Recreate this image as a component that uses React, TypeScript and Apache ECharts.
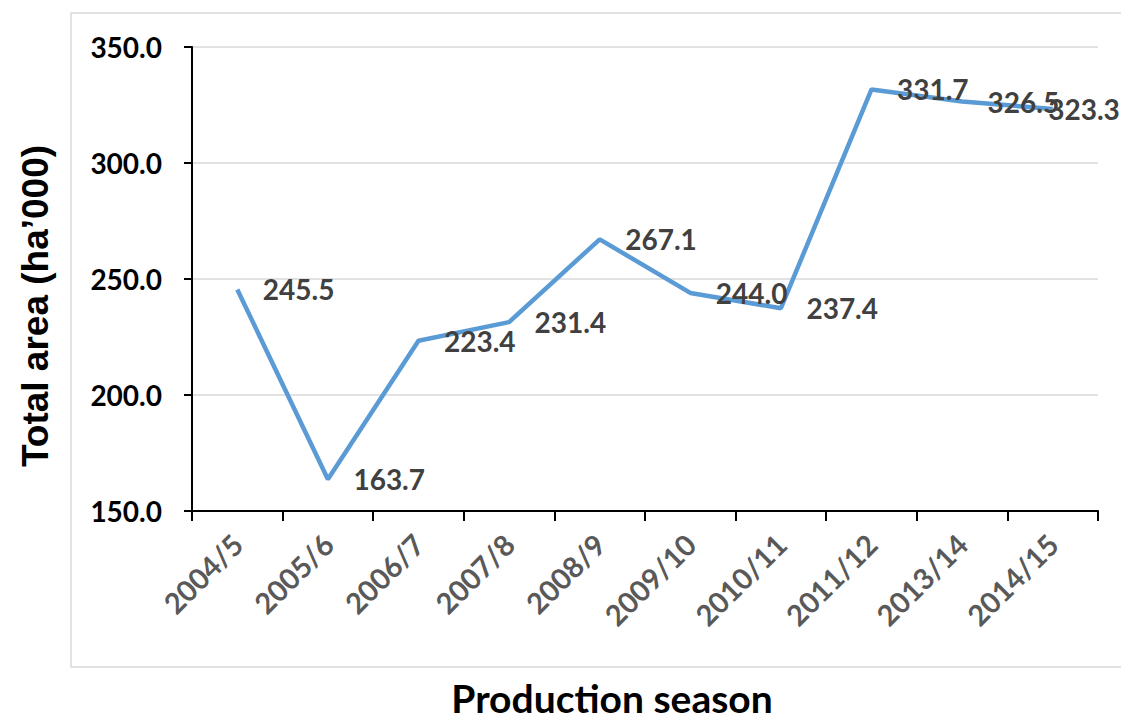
import React, { useEffect, useRef } from "react";
import * as echarts from "echarts";

const seasons = ["2004/5", "2005/6", "2006/7", "2007/8", "2008/9", "2009/10", "2010/11", "2011/12", "2013/14", "2014/15"];
const totalArea = [245.5, 163.7, 223.4, 231.4, 267.1, 244.0, 237.4, 331.7, 326.5, 323.3];
const yMin = 150;
const yMax = 350;
const yStep = 50;
const yTitle = "Total area (ha’000)";
const xTitle = "Production season";

export default function App() {
  const ref = useRef<HTMLDivElement>(null);
  useEffect(() => {
    if (!ref.current) return;
    const chart = echarts.init(ref.current, null, { renderer: "svg" });
    const seriesData = totalArea.map((v, i) =>
      i === totalArea.length - 1
        ? { value: v, label: { distance: -5 } }
        : { value: v }
    );
    chart.setOption({
      animation: false,
      backgroundColor: "#ffffff",
      grid: { left: 192, top: 47, right: 23, bottom: 208, containLabel: false },
      graphic: [
        {
          type: "rect",
          shape: { x: 71, y: 13, width: 1070, height: 654 },
          style: { fill: "none", stroke: "#d9d9d9", lineWidth: 1.5 },
          z: -1,
        },
        {
          type: "text",
          x: 35,
          y: 306,
          rotation: Math.PI / 2,
          style: {
            text: yTitle,
            fontFamily: "Liberation Sans, Arial, sans-serif",
            fontWeight: "bold",
            fontSize: 37,
            fill: "#000000",
            textAlign: "center",
            textVerticalAlign: "middle",
          },
        },
        {
          type: "text",
          x: 612,
          y: 698,
          style: {
            text: xTitle,
            fontFamily: "Lato, sans-serif",
            fontWeight: "bold",
            fontSize: 39,
            lineHeight: 36,
            fill: "#000000",
            textAlign: "center",
            textVerticalAlign: "middle",
          },
        },
      ],
      xAxis: {
        type: "category",
        data: seasons,
        boundaryGap: true,
        axisLine: { lineStyle: { color: "#000000", width: 2 } },
        axisTick: { show: true, length: 10, lineStyle: { color: "#000000", width: 2 } },
        axisLabel: {
          interval: 0,
          rotate: 45,
          margin: 28,
          color: "#595959",
          fontFamily: "Lato, sans-serif",
          fontWeight: "bold",
          fontSize: 29,
        },
        splitLine: { show: false },
      },
      yAxis: {
        type: "value",
        min: yMin,
        max: yMax,
        interval: yStep,
        axisLine: { show: true, lineStyle: { color: "#000000", width: 2 } },
        axisTick: { show: true, length: 8, lineStyle: { color: "#000000", width: 2 } },
        axisLabel: {
          margin: 30,
          color: "#000000",
          fontFamily: "Lato, sans-serif",
          fontWeight: "bold",
          fontSize: 28,
          formatter: (v: number) => v.toFixed(1),
        },
        splitLine: { show: true, lineStyle: { color: "#d9d9d9", width: 1.5 } },
      },
      series: [
        {
          type: "line",
          data: seriesData,
          symbol: "circle",
          symbolSize: 1,
          showSymbol: true,
          itemStyle: { color: "rgba(91,155,213,0)", borderWidth: 0 },
          lineStyle: { color: "#5B9BD5", width: 4.5 },
          label: {
            show: true,
            position: "right",
            distance: 25,
            color: "#404040",
            fontFamily: "Lato, sans-serif",
            fontWeight: "bold",
            fontSize: 28,
            formatter: (p: any) => Number(p.value).toFixed(1),
          },
          labelLayout: { hideOverlap: false },
        },
      ],
    });
    return () => chart.dispose();
  }, []);
  return (
    <div
      ref={ref}
      style={{ position: "fixed", left: 0, top: 0, width: 1121, height: 719 }}
    />
  );
}
